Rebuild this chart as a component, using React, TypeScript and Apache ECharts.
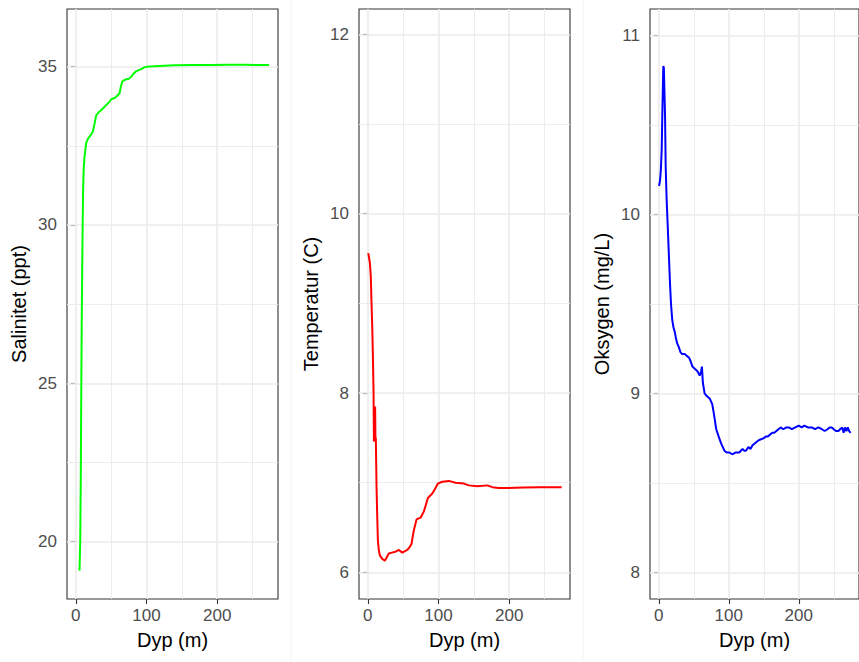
import React, { useEffect, useRef } from "react";
import * as echarts from "echarts";

// ---- data ----
const depthTicks = [0, 100, 200];
const depthMinor = [50, 150, 250];

const salDepth = [5.2, 6.2, 7.0, 7.6, 8.3, 9.0, 9.6, 10.2, 11.0, 12.3, 14.7, 17, 19.4, 22, 24.1, 26.5, 28.9, 32, 36, 40, 43, 47, 50.1, 54, 57.2, 61.9, 63.5, 65.7, 68, 71.3, 75, 78.4, 81, 84.5, 88, 92.6, 96, 100.5, 110, 118.5, 140, 165.6, 190, 212.9, 240, 260, 273.2];
const salValue = [19.08, 20.0, 22.0, 24.5, 26.8, 28.6, 29.9, 31.0, 31.7, 32.16, 32.59, 32.72, 32.79, 32.87, 32.95, 33.2, 33.47, 33.55, 33.63, 33.72, 33.79, 33.88, 33.97, 34.0, 34.05, 34.16, 34.35, 34.53, 34.57, 34.6, 34.62, 34.68, 34.76, 34.84, 34.88, 34.92, 34.97, 35.0, 35.01, 35.02, 35.04, 35.05, 35.05, 35.06, 35.06, 35.05, 35.05];
const salTicks = [20, 25, 30, 35];
const salMinor = [22.5, 27.5, 32.5];

const tempDepth = [0.6, 2.9, 4.2, 5.2, 6.2, 7.1, 8.1, 8.6, 9.3, 9.8, 10.3, 10.8, 11.3, 12.3, 13.2, 14.2, 15.5, 17, 20.4, 24.1, 27.5, 29.7, 34, 39.2, 43.9, 48.7, 55.8, 59, 61.9, 63.5, 65.1, 68.9, 74.6, 79.3, 82, 84.9, 91.2, 95, 99.1, 105.3, 114.6, 124.1, 135.9, 143, 154.8, 169, 176.1, 185, 197.3, 220, 244.5, 260, 274.2];
const tempValue = [9.56, 9.45, 9.3, 9.0, 8.75, 8.44, 8.0, 7.46, 7.85, 7.5, 7.85, 7.46, 7.5, 6.96, 6.65, 6.36, 6.25, 6.19, 6.15, 6.13, 6.18, 6.21, 6.22, 6.23, 6.25, 6.22, 6.25, 6.28, 6.32, 6.4, 6.47, 6.59, 6.61, 6.68, 6.75, 6.83, 6.88, 6.93, 6.99, 7.01, 7.02, 7.0, 6.99, 6.97, 6.96, 6.97, 6.95, 6.94, 6.94, 6.945, 6.95, 6.95, 6.95];
const tempTicks = [6, 8, 10, 12];
const tempMinor = [7, 9, 11];

const oxyDepth = [0.4, 1.8, 3, 4.2, 5.3, 6.5, 7.3, 8.0, 9.0, 9.9, 11.3, 13.6, 16, 17.5, 19.3, 21, 23.1, 24.5, 26.3, 28.5, 31.1, 33.5, 37.2, 40, 43.3, 45.5, 48.1, 51, 53.8, 56, 58.5, 60.3, 61.7, 63, 65.5, 67.5, 70.2, 73, 76.4, 79, 82.1, 85.5, 89.2, 93.8, 97, 100.9, 105, 110, 115, 119.7, 122, 124.5, 128, 131, 133.9, 137, 140, 143.4, 147, 150, 152.9, 156, 159, 162.2, 165, 168, 171, 174.1, 178, 182, 185.8, 190, 195, 200, 204, 208, 213, 218.8, 223, 228, 233, 237, 241, 244, 247.1, 250, 253, 256.6, 259, 262, 264, 266, 268, 270, 272, 274];
const oxyValue = [10.16, 10.19, 10.25, 10.36, 10.6, 10.83, 10.82, 10.82, 10.55, 10.27, 10.08, 9.86, 9.62, 9.5, 9.41, 9.37, 9.34, 9.31, 9.28, 9.26, 9.23, 9.22, 9.22, 9.21, 9.2, 9.18, 9.15, 9.14, 9.13, 9.12, 9.1, 9.12, 9.15, 9.06, 9.0, 8.99, 8.98, 8.97, 8.94, 8.88, 8.8, 8.76, 8.72, 8.68, 8.67, 8.67, 8.66, 8.67, 8.67, 8.69, 8.68, 8.68, 8.7, 8.69, 8.71, 8.72, 8.73, 8.74, 8.745, 8.75, 8.76, 8.76, 8.77, 8.78, 8.78, 8.79, 8.8, 8.81, 8.8, 8.81, 8.81, 8.8, 8.81, 8.82, 8.81, 8.82, 8.81, 8.81, 8.8, 8.81, 8.8, 8.79, 8.8, 8.81, 8.81, 8.8, 8.79, 8.79, 8.8, 8.81, 8.78, 8.81, 8.79, 8.81, 8.79, 8.78];
const oxyTicks = [8, 9, 10, 11];
const oxyMinor = [8.5, 9.5, 10.5];

const FONT = "'Liberation Sans', Arial, Helvetica, sans-serif";

export default function App() {
  const ref = useRef<HTMLDivElement>(null);

  useEffect(() => {
    if (!ref.current) return;
    const chart = echarts.init(ref.current, undefined, { renderer: "svg" });

    const panels = [
      { left: 67, name: "Salinitet (ppt)", depth: salDepth, values: salValue, ticks: salTicks, minor: salMinor, min: 18.19, max: 36.82, color: "#00FF00" },
      { left: 359, name: "Temperatur (C)", depth: tempDepth, values: tempValue, ticks: tempTicks, minor: tempMinor, min: 5.703, max: 12.282, color: "#FF0000" },
      { left: 650, name: "Oksygen (mg/L)", depth: oxyDepth, values: oxyValue, ticks: oxyTicks, minor: oxyMinor, min: 7.851, max: 11.149, color: "#0000FF" },
    ];

    const gridColor = "#EBEBEB";
    const tickStyle = { show: true, length: 5, lineStyle: { color: "#333333", width: 1.1 } };
    const labelStyle = { color: "#4D4D4D", fontSize: 17, fontFamily: FONT };
    const nameStyle = { color: "#000000", fontSize: 20, fontFamily: FONT };

    const option: any = {
      animation: false,
      backgroundColor: "#FFFFFF",
      grid: panels.map((p) => ({
        left: p.left, top: 9, width: 211, height: 590,
        show: true, borderColor: "#333333", borderWidth: 1.1, backgroundColor: "transparent",
      })),
      xAxis: panels.map((p, i) => ({
        type: "value", gridIndex: i, min: -12.5, max: 286,
        name: "Dyp (m)", nameLocation: "middle", nameGap: 31, nameTextStyle: nameStyle,
        axisLine: { show: false },
        axisTick: { ...tickStyle, customValues: depthTicks },
        axisLabel: { ...labelStyle, margin: 8, customValues: depthTicks },
        splitLine: { show: false },
      })),
      yAxis: panels.map((p, i) => ({
        type: "value", gridIndex: i, min: p.min, max: p.max,
        name: p.name, nameLocation: "middle", nameGap: 38, nameTextStyle: nameStyle,
        axisLine: { show: false },
        axisTick: { ...tickStyle, customValues: p.ticks },
        axisLabel: { ...labelStyle, margin: 10, customValues: p.ticks },
        splitLine: { show: false },
      })),
      series: panels.map((p, i) => ({
        type: "line", xAxisIndex: i, yAxisIndex: i,
        data: p.depth.map((d, k) => [d, p.values[k]]),
        showSymbol: false, symbol: "none", silent: true, z: 3,
        lineStyle: { color: p.color, width: 2 },
        markLine: {
          silent: true, symbol: ["none", "none"], z: 1, label: { show: false },
          emphasis: { disabled: true },
          data: [
            ...p.minor.map((v) => ({ yAxis: v, lineStyle: { color: gridColor, width: 0.9, type: "solid" } })),
            ...depthMinor.map((v) => ({ xAxis: v, lineStyle: { color: gridColor, width: 0.9, type: "solid" } })),
            ...p.ticks.map((v) => ({ yAxis: v, lineStyle: { color: gridColor, width: 1.6, type: "solid" } })),
            ...depthTicks.map((v) => ({ xAxis: v, lineStyle: { color: gridColor, width: 1.6, type: "solid" } })),
          ],
        },
      })),
      graphic: [
        { type: "line", shape: { x1: 291, y1: 0, x2: 291, y2: 662 }, style: { stroke: "#F2F2F2", lineWidth: 1 }, silent: true },
        { type: "line", shape: { x1: 583, y1: 0, x2: 583, y2: 662 }, style: { stroke: "#F2F2F2", lineWidth: 1 }, silent: true },
      ],
    };

    chart.setOption(option);
    return () => chart.dispose();
  }, []);

  return (
    <div
      ref={ref}
      style={{ position: "fixed", left: 0, top: 0, width: 859, height: 662, background: "#fff" }}
    />
  );
}
